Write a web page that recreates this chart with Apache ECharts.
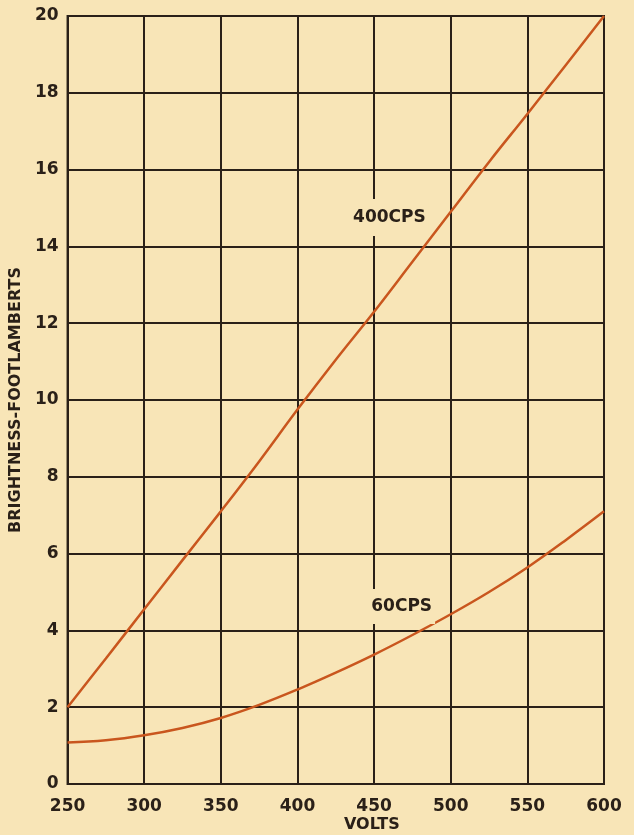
<!DOCTYPE html>
<html>
<head>
<meta charset="utf-8">
<script src="https://cdn.jsdelivr.net/npm/echarts@6/dist/echarts.min.js"></script>
<style>
  html, body { margin: 0; padding: 0; background: #f8e5b7; }
  #chart { width: 634px; height: 835px; }
</style>
</head>
<body>
<div id="chart"></div>
<script>
// volts, read every 25 V off the scan
const volts = [250, 275, 300, 325, 350, 375, 400, 425, 450, 475, 500, 525, 550, 575, 600]
// brightness (footlamberts)
const cps400 = [2.0, 3.27, 4.55, 5.83, 7.1, 8.4, 9.75, 11.05, 12.3, 13.6, 14.9, 16.2, 17.45, 18.72, 20.0]
const cps60 = [1.08, 1.14, 1.27, 1.46, 1.72, 2.06, 2.46, 2.9, 3.37, 3.88, 4.42, 5.0, 5.64, 6.35, 7.1]

const ink = '#2a2018'
const paper = '#f8e5b7'
const curve = '#c9561e'
const font = 'DejaVu Sans'

function pairs (ys) {
  return volts.map((v, i) => [v, ys[i]])
}

const chart = echarts.init(document.getElementById('chart'))
chart.setOption({
  backgroundColor: paper,
  animation: false,
  grid: {
    left: 64,
    right: 30,
    top: 16,
    bottom: 51,
    show: true,
    borderColor: ink,
    borderWidth: 2,
    backgroundColor: 'transparent'
  },
  xAxis: {
    type: 'value',
    min: 250,
    max: 600,
    interval: 50,
    axisLine: { show: false },
    axisTick: { show: false },
    splitLine: { show: true, lineStyle: { color: ink, width: 2 } },
    axisLabel: {
      color: ink,
      fontFamily: font,
      fontWeight: 'bold',
      fontSize: 17,
      margin: 14
    }
  },
  yAxis: {
    type: 'value',
    min: 0,
    max: 20,
    interval: 2,
    name: 'BRIGHTNESS-FOOTLAMBERTS',
    nameLocation: 'middle',
    nameGap: 41,
    nameTextStyle: {
      color: ink,
      fontFamily: font,
      fontWeight: 'bold',
      fontSize: 16
    },
    axisLine: { show: false },
    axisTick: { show: false },
    splitLine: { show: true, lineStyle: { color: ink, width: 2 } },
    axisLabel: {
      color: ink,
      fontFamily: font,
      fontWeight: 'bold',
      fontSize: 17,
      margin: 9
    }
  },
  graphic: [{
    type: 'text',
    left: 344,
    top: 817,
    style: {
      text: 'VOLTS',
      fill: ink,
      font: 'bold 16px "DejaVu Sans"'
    }
  }],
  series: [
    {
      // carries the two curve labels, under the curves
      type: 'line',
      z: 1,
      data: [],
      markPoint: {
        symbol: 'rect',
        symbolSize: 0,
        label: {
          show: true,
          position: 'inside',
          color: ink,
          fontFamily: font,
          fontWeight: 'bold',
          fontSize: 17,
          backgroundColor: paper,
          padding: [10, 3],
          formatter: p => p.name
        },
        data: [
          { name: '400CPS', coord: [460, 14.75] },
          { name: '60CPS', coord: [468, 4.62], label: { padding: [9, 3] } }
        ]
      }
    },
    {
      name: '400 CPS',
      type: 'line',
      z: 3,
      smooth: 0.4,
      showSymbol: false,
      lineStyle: { color: curve, width: 2.5 },
      data: pairs(cps400)
    },
    {
      name: '60 CPS',
      type: 'line',
      z: 3,
      smooth: 0.4,
      showSymbol: false,
      lineStyle: { color: curve, width: 2.5 },
      data: pairs(cps60)
    }
  ]
})
</script>
</body>
</html>
